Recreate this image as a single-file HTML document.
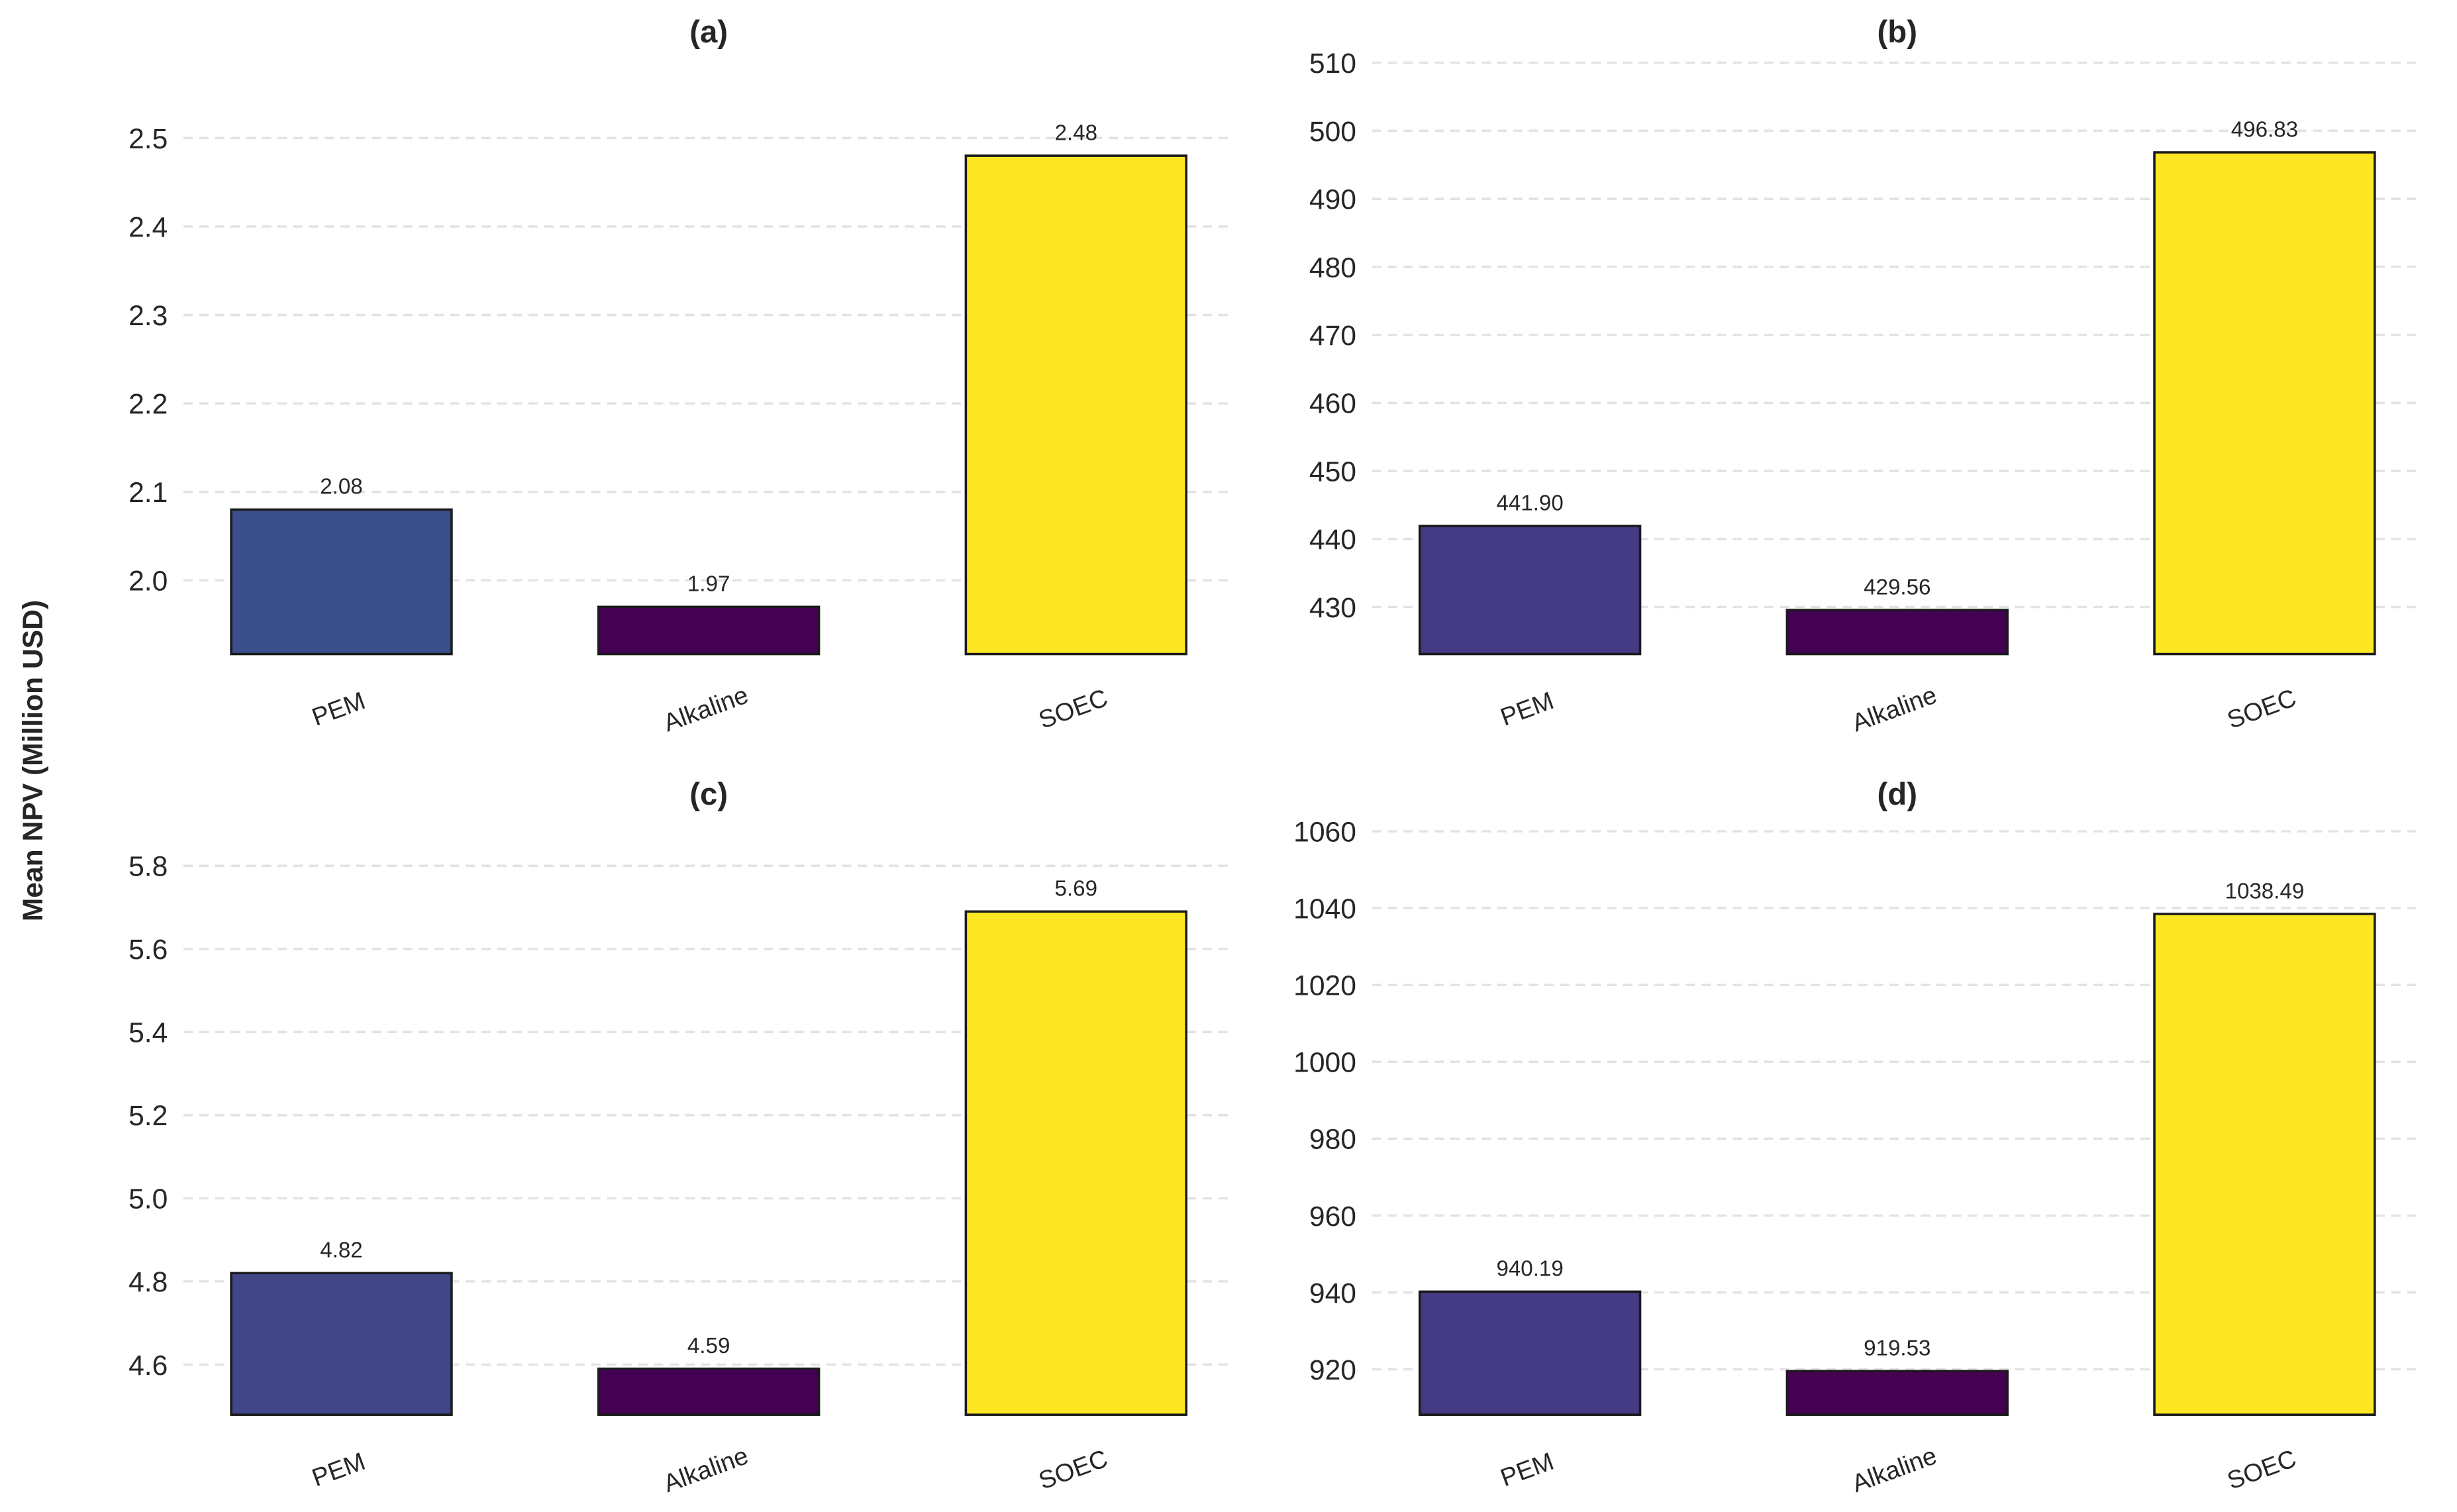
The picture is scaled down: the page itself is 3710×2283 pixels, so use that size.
<!DOCTYPE html>
<html><head><meta charset="utf-8"><style>
html,body{margin:0;padding:0;background:#fff;}
svg{display:block;font-family:"Liberation Sans",Arial,sans-serif;}
</style></head><body>
<svg id="chart" width="3710" height="2283" viewBox="0 0 1567 964" preserveAspectRatio="none" xmlns="http://www.w3.org/2000/svg">
<text x="0" y="0" transform="translate(27,485) rotate(-90)" text-anchor="middle" font-size="18" font-weight="bold" fill="#262626">Mean NPV (Million USD)</text>
</svg>
<script>
const categories = ["PEM","Alkaline","SOEC"];
const valuesA = [2.08, 1.97, 2.48];
const valuesB = [441.90, 429.56, 496.83];
const valuesC = [4.82, 4.59, 5.69];
const valuesD = [940.19, 919.53, 1038.49];
const ticksA = ["2.0","2.1","2.2","2.3","2.4","2.5"];
const ticksB = ["430","440","450","460","470","480","490","500","510"];
const ticksC = ["4.6","4.8","5.0","5.2","5.4","5.6","5.8"];
const ticksD = ["920","940","960","980","1000","1020","1040","1060"];
const titles = ["(a)","(b)","(c)","(d)"];

const NS="http://www.w3.org/2000/svg";
const svg=document.getElementById('chart');
function mk(tag,attrs,parent){const e=document.createElementNS(NS,tag);for(const k in attrs)e.setAttribute(k,attrs[k]);(parent||svg).appendChild(e);return e;}

const panels=[
 {vals:valuesA,ticks:ticksA,x0:117,x1:787,bot:417,vA:2.0,yA:370,vB:2.5,yB:88,pem:"#3b4f8a",ty:20},
 {vals:valuesB,ticks:ticksB,x0:875,x1:1545,bot:417,vA:430,yA:387,vB:510,yB:40,pem:"#453a84",ty:20},
 {vals:valuesC,ticks:ticksC,x0:117,x1:787,bot:902,vA:4.6,yA:870,vB:5.8,yB:552,pem:"#404688",ty:506},
 {vals:valuesD,ticks:ticksD,x0:875,x1:1545,bot:902,vA:920,yA:873,vB:1060,yB:530,pem:"#453a84",ty:506}
];
const colors=p=>[p.pem,"#440154","#fde725"];

panels.forEach((p,pi)=>{
  const g=mk('g',{});
  
  
  const y=v=>p.yA+(v-p.vA)*(p.yB-p.yA)/(p.vB-p.vA);
  const unit=(p.x1-p.x0)/2.86;
  const x=i=>p.x0+(i+0.43)*unit;
  const t=mk('text',{x:(p.x0+p.x1)/2,y:p.ty+7,'text-anchor':'middle','font-size':20,'font-weight':'bold',fill:'#262626'},g);
  
  
  t.textContent=titles[pi];
  p.ticks.forEach(tk=>{
    const v=parseFloat(tk), yy=y(v);
    const l=mk('line',{x1:p.x0,x2:p.x1,y1:yy,y2:yy,stroke:'#e3e3e3','stroke-width':1.5,'stroke-dasharray':'6,4'},g);
    
    
    const tl=mk('text',{x:p.x0-10,y:yy+6.5,'text-anchor':'end','font-size':18,fill:'#262626'},g);
    
    
    tl.textContent=tk;
  });
  const cs=colors(p);
  p.vals.forEach((v,i)=>{
    const bw=unit*0.6, top=y(v);
    const r=mk('rect',{x:x(i)-bw/2,y:top,width:bw,height:p.bot-top,fill:cs[i],stroke:'#1a1a1a','stroke-width':1.5},g);
    
    
    const vl=mk('text',{x:x(i),y:top-10,'text-anchor':'middle','font-size':14,fill:'#262626'},g);
    
    
    vl.textContent=v.toFixed(2);
    const xl=mk('text',{x:0,y:0,transform:`translate(${x(i)},${p.bot+40}) rotate(-20)`,'text-anchor':'middle','font-size':16,fill:'#262626'},g);
    
    
    xl.textContent=categories[i];
  });
});
</script>
</body></html>
